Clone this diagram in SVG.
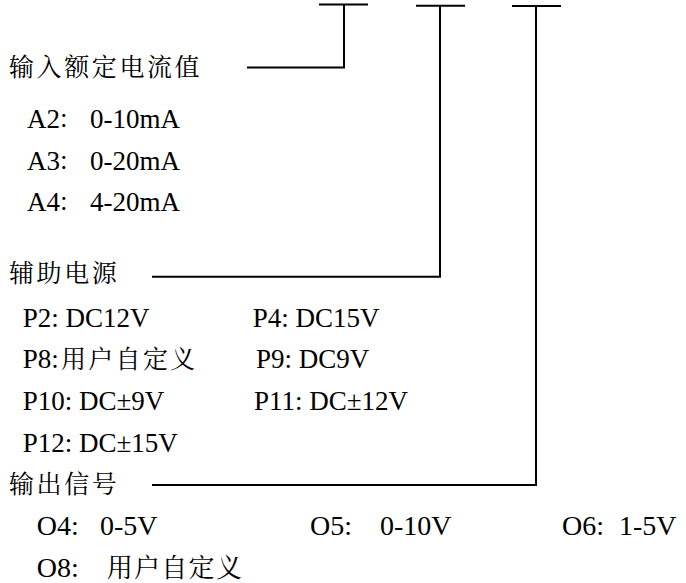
<svg xmlns="http://www.w3.org/2000/svg" width="686" height="583" viewBox="0 0 686 583">
<style>
.cn{font-family:"Noto Serif CJK SC","Noto Sans CJK SC","Noto Sans CJK TC",sans-serif;font-size:25px;letter-spacing:2.6px;fill:#000}
.lt{font-family:"Liberation Serif","Times New Roman",serif;font-size:27px;fill:#000}
.lo{font-family:"Liberation Serif","Times New Roman",serif;font-size:28px;fill:#000}
.cj{font-family:"Noto Serif CJK SC","Noto Sans CJK SC","Noto Sans CJK TC",sans-serif;font-size:25px;letter-spacing:2.3px}
.ln{stroke:#000;stroke-width:2;fill:none}
</style>
<rect width="686" height="583" fill="#fff"/>
<g id="slot1"><line class="ln" x1="319" y1="4.5" x2="368" y2="4.5"/></g>
<g id="slot2"><line class="ln" x1="416" y1="5.7" x2="465" y2="5.7"/></g>
<g id="slot3"><line class="ln" x1="512" y1="6" x2="561" y2="6"/></g>
<g id="connectors">
<path class="ln" d="M247 67.5 H344 V4.5"/>
<path class="ln" d="M152 276.7 H440 V5.7"/>
<path class="ln" d="M152 485 H536 V6"/>
</g>
<g id="input-current">
<text class="cn" x="9" y="76">输入额定电流值</text>
<text class="lt" y="128"><tspan x="27">A2</tspan><tspan class="cj" x="58">：</tspan><tspan x="90">0-10mA</tspan></text>
<text class="lt" y="169.5"><tspan x="27">A3</tspan><tspan class="cj" x="58">：</tspan><tspan x="90">0-20mA</tspan></text>
<text class="lt" y="211"><tspan x="27">A4</tspan><tspan class="cj" x="58">：</tspan><tspan x="90">4-20mA</tspan></text>
</g>
<g id="aux-power">
<text class="cn" x="9" y="282">辅助电源</text>
<text class="lt" x="22.7" y="327">P2: DC12V</text>
<text class="lt" x="252.7" y="327">P4: DC15V</text>
<text class="lt" x="22.7" y="368">P8:<tspan class="cj" x="61">用户自定义</tspan></text>
<text class="lt" x="256" y="368">P9: DC9V</text>
<text class="lt" x="22.7" y="410">P10: DC±9V</text>
<text class="lt" x="254" y="410">P11: DC±12V</text>
<text class="lt" x="22.7" y="452">P12: DC±15V</text>
</g>
<g id="output-signal">
<text class="cn" x="9" y="493">输出信号</text>
<text class="lo" y="535"><tspan x="36.7">O4:</tspan><tspan x="100">0-5V</tspan></text>
<text class="lo" y="535"><tspan x="310">O5:</tspan><tspan x="380">0-10V</tspan></text>
<text class="lo" y="535"><tspan x="562">O6:</tspan><tspan x="619">1-5V</tspan></text>
<text class="lo" y="577"><tspan x="36.7">O8:</tspan><tspan class="cj" x="106.7" style="font-size:26px;letter-spacing:1.3px">用户自定义</tspan></text>
</g>
</svg>
